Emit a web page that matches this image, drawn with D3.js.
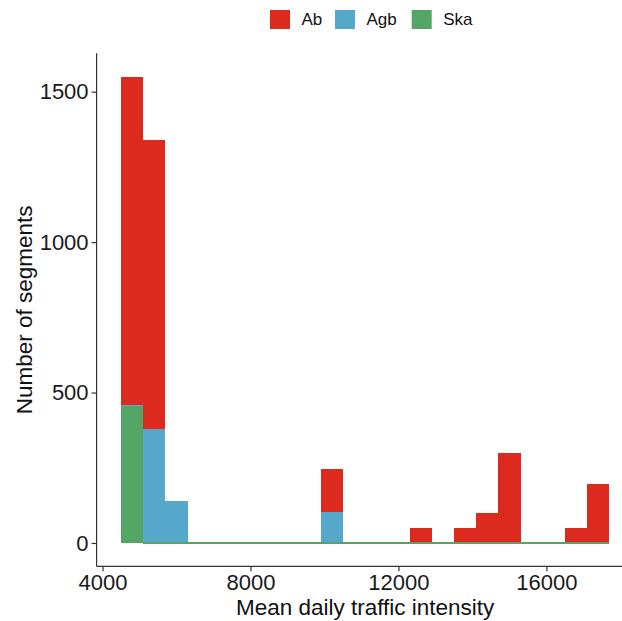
<!DOCTYPE html>
<html>
<head>
<meta charset="utf-8">
<script src="https://cdn.jsdelivr.net/npm/d3@7/dist/d3.min.js"></script>
<style>
  html, body { margin: 0; padding: 0; background: #fff; }
  svg { display: block; font-family: "Liberation Sans", Arial, sans-serif; }
</style>
</head>
<body>
<svg id="chart" width="622" height="621"></svg>
<script>
// Histogram bins: lower edge of each bin (width 600)
const binStarts = [4500, 5100, 5700, 6300, 6900, 7500, 8100, 8700, 9300, 9900, 10500,
                   11100, 11700, 12300, 12900, 13500, 14100, 14700, 15300, 15900, 16500, 17100];
const binWidth = 600;

// Segment counts per bin for each road class
const ab  = [1092, 960, 0, 0, 0, 0, 0, 0, 0, 143, 0, 0, 0, 50, 0, 50, 100, 300, 0, 0, 50, 196];
const agb = [3, 380, 140, 0, 0, 0, 0, 0, 0, 103, 0, 0, 0, 0, 0, 0, 0, 0, 0, 0, 0, 0];
const ska = [455, 0, 0, 0, 0, 0, 0, 0, 0, 0, 0, 0, 0, 0, 0, 0, 0, 0, 0, 0, 0, 0];

const classes = ["Ab", "Agb", "Ska"];
const colors = ["#DC2A1F", "#56A8CB", "#54A566"];

const xTicks = [4000, 8000, 12000, 16000];
const yTicks = [0, 500, 1000, 1500];

const xTitle = "Mean daily traffic intensity";
const yTitle = "Number of segments";

const svg = d3.select("#chart");

// Panel geometry
const panelLeft = 96.6, panelBottom = 566.3, panelTop = 53.3;
const xMin = 3840, xMax = 18360;
const x = d3.scaleLinear().domain([xMin, xMax]).range([panelLeft, panelLeft + (xMax - xMin) * 0.03699]);
const yMaxData = 1550;
const y = d3.scaleLinear().domain([-0.05 * yMaxData, 1.05 * yMaxData]).range([panelBottom, panelTop]);

const rows = binStarts.map((s, i) => ({ start: s, Ab: ab[i], Agb: agb[i], Ska: ska[i] }));

// Ska at the bottom, Ab on top
const stack = d3.stack().keys(["Ska", "Agb", "Ab"]);
const layers = stack(rows);
const colorOf = d3.scaleOrdinal().domain(classes).range(colors);

// Draw order Ab, Agb, Ska so zero-height Ska slivers sit on the baseline
const drawOrder = ["Ab", "Agb", "Ska"];
const gBars = svg.append("g").attr("shape-rendering", "crispEdges");
drawOrder.forEach(key => {
  const layer = layers.find(l => l.key === key);
  gBars.append("g")
    .attr("fill", colorOf(key))
    .selectAll("rect")
    .data(layer.filter(d => d[1] - d[0] > 0 || key === "Ska"))
    .join("rect")
    .attr("x", d => x(d.data.start))
    .attr("width", d => x(d.data.start + binWidth) - x(d.data.start))
    .attr("y", d => d[1] - d[0] > 0 ? y(d[1]) : y(0) - 0.7)
    .attr("height", d => d[1] - d[0] > 0 ? y(d[0]) - y(d[1]) : 1.4);
});

// Axes
const axisColor = "#333333";
const tickFont = 22;

const xAxis = svg.append("g")
  .attr("transform", `translate(0,${panelBottom})`)
  .call(d3.axisBottom(x).tickValues(xTicks).tickFormat(d3.format("d")).tickSize(5).tickPadding(3));
const yAxis = svg.append("g")
  .attr("transform", `translate(${panelLeft},0)`)
  .call(d3.axisLeft(y).tickValues(yTicks).tickFormat(d3.format("d")).tickSize(5).tickPadding(3));

[xAxis, yAxis].forEach(a => {
  a.select(".domain").attr("stroke", axisColor).attr("stroke-width", 1.2);
  a.selectAll(".tick line").attr("stroke", axisColor).attr("stroke-width", 1.2);
  a.selectAll(".tick text")
    .attr("fill", "#1a1a1a")
    .style("font-size", tickFont + "px")
    .style("font-family", "'Liberation Sans', Arial, sans-serif");
});
// Axis lines run the full extent of the panel
xAxis.select(".domain").attr("d", `M${panelLeft},0H${x(xMax)}`);
yAxis.select(".domain").attr("d", `M0,${y(y.domain()[1])}V${panelBottom}`);

// Axis titles
svg.append("text")
  .attr("x", (panelLeft + x(xMax)) / 2)
  .attr("y", 615)
  .attr("text-anchor", "middle")
  .attr("fill", "#111")
  .style("font-size", "22.5px")
  .text(xTitle);

svg.append("text")
  .attr("transform", `translate(31.5,${(panelTop + panelBottom) / 2}) rotate(-90)`)
  .attr("text-anchor", "middle")
  .attr("fill", "#111")
  .style("font-size", "22.5px")
  .text(yTitle);

// Legend
const legendX = [270, 335, 411.7];
const legend = svg.append("g");
classes.forEach((c, i) => {
  const g = legend.append("g").attr("transform", `translate(${legendX[i]},10)`);
  g.append("rect").attr("width", 20).attr("height", 19).attr("fill", colorOf(c));
  g.append("text")
    .attr("x", 31.5)
    .attr("y", 9.5)
    .attr("dy", "0.35em")
    .attr("fill", "#111")
    .style("font-size", "17px")
    .text(c);
});
</script>
</body>
</html>
